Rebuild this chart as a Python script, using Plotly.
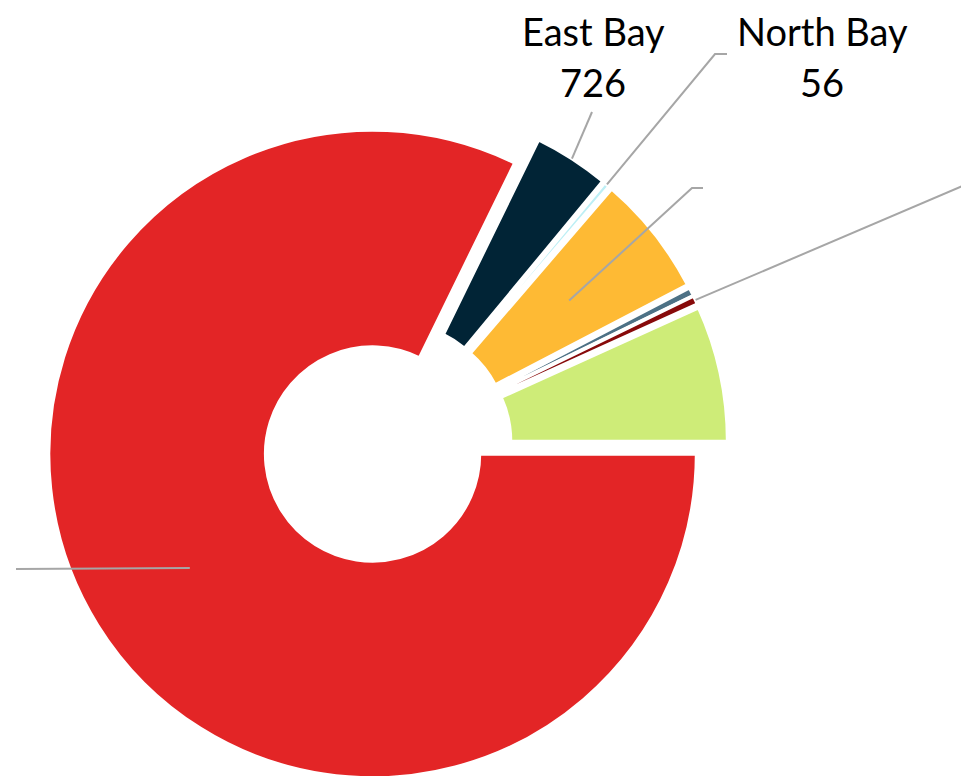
import math
import plotly.graph_objects as go

# ---- data ----
regions = ["Region A", "East Bay", "North Bay", "Region B", "Region C", "Region D", "Region E"]
counts = [15810, 726, 56, 1164, 82, 85, 1302]
colors = ["#E32526", "#012436", "#BDEFF5", "#FEBA34", "#4D7185", "#870A0A", "#CEEC78"]
label_lines = {"East Bay": ["East Bay", "726"], "North Bay": ["North Bay", "56"]}

# ---- layout parameters ----
W, H = 969, 790
PULL = 0.0525
HOLE = 0.33
DOM_X = [38 / 969, 720 / 969]
DOM_Y = [(790 - 778) / 790, (790 - 96) / 790]
LINE_COLOR = "#A6A6A6"
FONT = dict(family="Lato, 'Open Sans', sans-serif", size=38, color="#000000")

fig = go.Figure(go.Pie(
    labels=regions, values=counts, sort=False, direction="clockwise", rotation=90,
    hole=HOLE, pull=[PULL] * len(counts),
    marker=dict(colors=colors, line=dict(color="#FFFFFF", width=3.5)),
    textinfo="none", hoverinfo="label+value", showlegend=False,
    domain=dict(x=DOM_X, y=DOM_Y),
))

# geometry replicating plotly's pie placement, to anchor the leader lines on the slices
boxW = W * (DOM_X[1] - DOM_X[0])
boxH = H * (DOM_Y[1] - DOM_Y[0])
R = min(boxW, boxH) / (2 + 2 * PULL)
CX = W * (DOM_X[0] + DOM_X[1]) / 2
CY = H * (1 - DOM_Y[0]) - boxH / 2
total = sum(counts)

def slice_point(idx, frac):
    cum = sum(counts[:idx])
    th = -math.radians((cum + counts[idx] / 2) * 360 / total)
    sx = CX + PULL * R * math.cos(th)
    sy = CY - PULL * R * math.sin(th)
    rr = R * frac
    return sx + rr * math.cos(th), sy - rr * math.sin(th)

def px2paper(x, y):
    return x / W, 1 - y / H

mid = (1 + HOLE) / 2
leaders = [
    (0, mid, [(8, 561)]),
    (1, 1.0, [(584, 104)]),
    (2, 1.0, [(719, 46), (707, 46)]),
    (3, mid, [(695, 180), (684, 180)]),
    (5, 1.0, [(985, 165)]),
]
shapes = []
for idx, frac, pts in leaders:
    ex, ey = slice_point(idx, frac)
    allpts = pts + [(ex, ey)]
    path = ""
    for k, (x, y) in enumerate(allpts):
        xp, yp = px2paper(x, y)
        path += ("M" if k == 0 else "L") + f"{xp:.5f},{yp:.5f} "
    shapes.append(dict(type="path", path=path, xref="paper", yref="paper",
                       line=dict(color=LINE_COLOR, width=2)))

annotations = []
label_pos = {"East Bay": 585, "North Bay": 814}
line_y = [23, 74]
for name, lines in label_lines.items():
    for txt, y in zip(lines, line_y):
        xp, yp = px2paper(label_pos[name], y)
        annotations.append(dict(text=txt, x=xp, y=yp, xref="paper", yref="paper",
                                xanchor="center", yanchor="middle", showarrow=False,
                                borderpad=0, borderwidth=0,
                                font=FONT, align="center"))

fig.update_layout(
    width=W, height=H, margin=dict(l=0, r=0, t=0, b=0),
    paper_bgcolor="white", plot_bgcolor="white",
    shapes=shapes, annotations=annotations,
)
fig.write_html("out.html")
